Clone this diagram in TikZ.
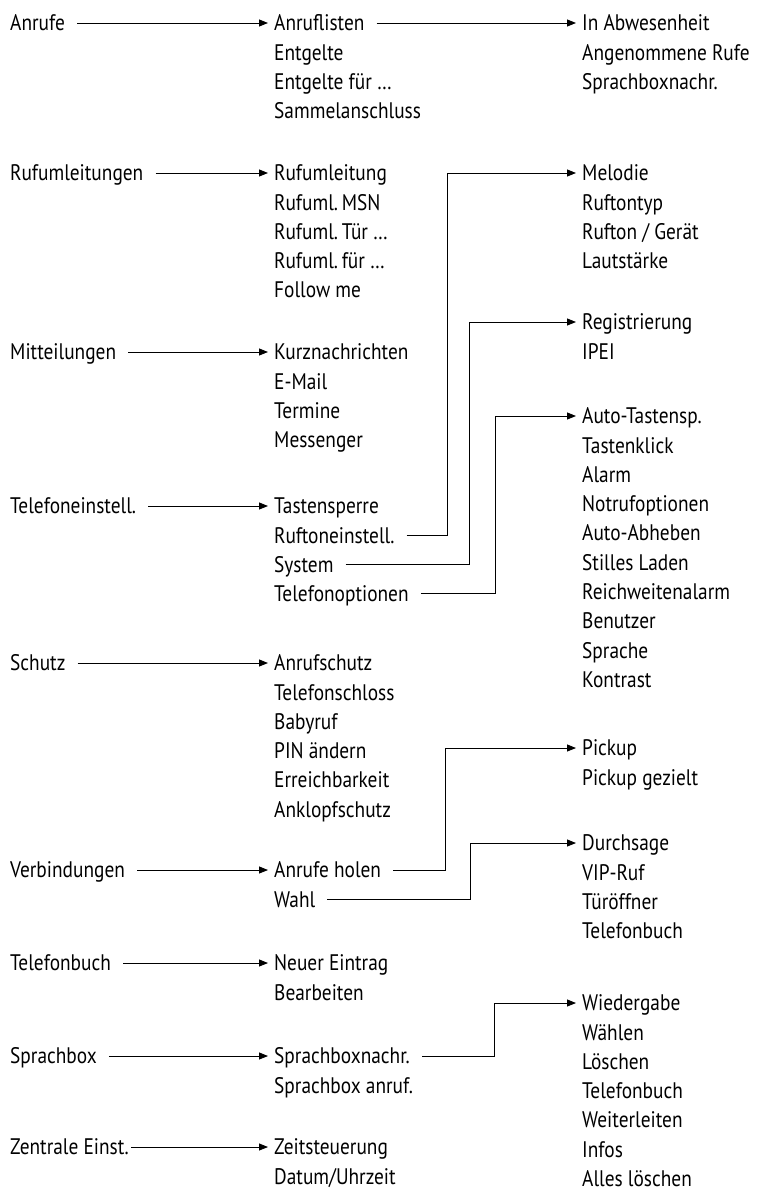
\documentclass[tikz,border=0pt]{standalone}
\usepackage{fontspec}
\setmainfont[FakeStretch=0.86]{PT Sans}
\usepackage{tikz}
\usetikzlibrary{arrows.meta,positioning}

\begin{document}
\begin{tikzpicture}[x=1pt, y=-1pt,
  head/.style={anchor=west, inner sep=0pt, font=\fontsize{22.5}{27}\selectfont,
    text height=15.5pt, text depth=0pt},
  entry/.style={head},
  arr/.style={-{Triangle[length=9pt,width=7pt]}, line width=0.9pt,
    shorten <=12pt, shorten >=6pt}]
\useasboundingbox (0,0) rectangle (758,1193);
% main menu
\node[head] (anrufe) at (10,23) {Anrufe};
\node[head] (rufuml) at (10,173) {Rufumleitungen};
\node[head] (mitt) at (10,352) {Mitteilungen};
\node[head] (telein) at (10,506) {Telefoneinstell.};
\node[head] (schutz) at (10,663) {Schutz};
\node[head] (verb) at (10,870) {Verbindungen};
\node[head] (tbuch) at (10,963) {Telefonbuch};
\node[head] (sbox) at (10,1056) {Sprachbox};
\node[head] (zentr) at (10,1147) {Zentrale Einst.};
% submenus
\foreach \txt [count=\i] in {Anruflisten, Entgelte, Entgelte für …, Sammelanschluss}
  \node[entry] (anr\i) at (274,{23+(\i-1)*29.3}) {\txt};
\foreach \txt [count=\i] in {Rufumleitung, Rufuml.\,MSN, Rufuml.\,Tür …, Rufuml.\,für …, Follow me}
  \node[entry] (ruf\i) at (274,{173+(\i-1)*29.3}) {\txt};
\foreach \txt [count=\i] in {Kurznachrichten, E-Mail, Termine, Messenger}
  \node[entry] (mit\i) at (274,{352+(\i-1)*29.3}) {\txt};
\foreach \txt [count=\i] in {Tastensperre, Ruftoneinstell., System, Telefonoptionen}
  \node[entry] (tel\i) at (274,{506+(\i-1)*29.3}) {\txt};
\foreach \txt [count=\i] in {Anrufschutz, Telefonschloss, Babyruf, PIN ändern, Erreichbarkeit, Anklopfschutz}
  \node[entry] (sch\i) at (274,{663+(\i-1)*29.3}) {\txt};
\foreach \txt [count=\i] in {Anrufe holen, Wahl}
  \node[entry] (ver\i) at (274,{870+(\i-1)*29.3}) {\txt};
\foreach \txt [count=\i] in {Neuer Eintrag, Bearbeiten}
  \node[entry] (tb\i) at (274,{963+(\i-1)*29.3}) {\txt};
\foreach \txt [count=\i] in {Sprachboxnachr., Sprachbox anruf.}
  \node[entry] (sb\i) at (274,{1056+(\i-1)*29.3}) {\txt};
\foreach \txt [count=\i] in {Zeitsteuerung, Datum/Uhrzeit}
  \node[entry] (zen\i) at (274,{1147+(\i-1)*29.3}) {\txt};
% third level
\foreach \txt [count=\i] in {In Abwesenheit, Angenommene Rufe, Sprachboxnachr.}
  \node[entry] (abw\i) at (582,{23+(\i-1)*29.3}) {\txt};
\foreach \txt [count=\i] in {Melodie, Ruftontyp, Rufton / Gerät, Lautstärke}
  \node[entry] (mel\i) at (582,{173+(\i-1)*29.3}) {\txt};
\foreach \txt [count=\i] in {Registrierung, IPEI}
  \node[entry] (reg\i) at (582,{322+(\i-1)*29.3}) {\txt};
\foreach \txt [count=\i] in {Auto-Tastensp., Tastenklick, Alarm, Notrufoptionen, Auto-Abheben, Stilles Laden, Reichweitenalarm, Benutzer, Sprache, Kontrast}
  \node[entry] (opt\i) at (582,{416+(\i-1)*29.3}) {\txt};
\foreach \txt [count=\i] in {Pickup, Pickup gezielt}
  \node[entry] (pick\i) at (582,{748+(\i-1)*29.3}) {\txt};
\foreach \txt [count=\i] in {Durchsage, VIP-Ruf, Türöffner, Telefonbuch}
  \node[entry] (dur\i) at (582,{843+(\i-1)*29.3}) {\txt};
\foreach \txt [count=\i] in {Wiedergabe, Wählen, Löschen, Telefonbuch, Weiterleiten, Infos, Alles löschen}
  \node[entry] (wied\i) at (582,{1003+(\i-1)*29.3}) {\txt};
% straight arrows
\foreach \a/\b in {anrufe/anr1, rufuml/ruf1, mitt/mit1, telein/tel1, schutz/sch1,
    verb/ver1, tbuch/tb1, sbox/sb1, anr1/abw1}
  \draw[arr] (\a.east) -- (\b.west);
\draw[arr, shorten <=2pt] (zentr.east) -- (zen1.west);
% elbow arrows
\coordinate (k1) at (447,0);
\coordinate (k2) at (469,0);
\coordinate (k3) at (495,0);
\coordinate (k4) at (445,0);
\coordinate (k5) at (470,0);
\coordinate (k6) at (494,0);
\draw[arr] (tel2.east) -- (tel2.east -| k1) |- (mel1.west);
\draw[arr] (tel3.east) -- (tel3.east -| k2) |- (reg1.west);
\draw[arr] (tel4.east) -- (tel4.east -| k3) |- (opt1.west);
\draw[arr] (ver1.east) -- (ver1.east -| k4) |- (pick1.west);
\draw[arr] (ver2.east) -- (ver2.east -| k5) |- (dur1.west);
\draw[arr] (sb1.east) -- (sb1.east -| k6) |- (wied1.west);
\end{tikzpicture}
\end{document}
